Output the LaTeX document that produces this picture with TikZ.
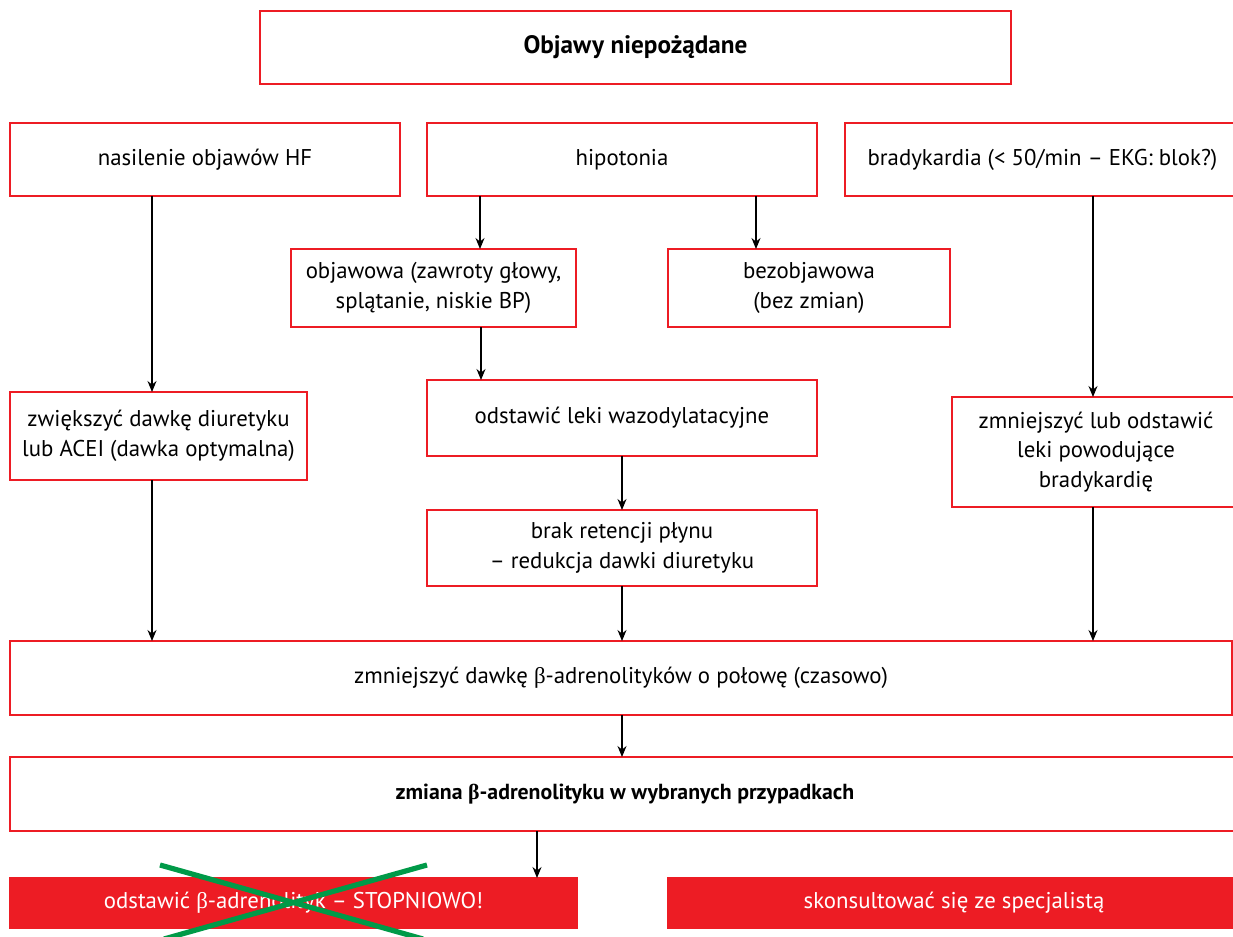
\documentclass[tikz,border=0pt]{standalone}
\usepackage{fontspec}
\setmainfont{PT Sans}
\newfontfamily\betafont{Liberation Serif}
\newcommand{\btsym}{{\betafont β}}
\usetikzlibrary{
  arrows.meta
}
\definecolor{boxred}{HTML}{ED1C24}
\definecolor{crossgreen}{HTML}{009A48}
\tikzset{
  flowbox/.style={
    draw=boxred,
    line width=0.7pt,
    fill=white,
    inner sep=0pt,
    outer sep=0pt,
    align=center,
    font=\fontsize{11.4}{14.8}\selectfont
  },
  alertbox/.style={
    flowbox,
    fill=boxred,
    text=white
  },
  flowarrow/.style={
    draw,
    line width=0.6pt,
    -{Stealth[length=5.5pt,width=4.5pt]}
  },
  crossout/.style={
    draw=crossgreen,
    line width=2.6pt
  }
}
\begin{document}
\begin{tikzpicture}[x=0.5pt,y=-0.5pt]
  \clip (0,0) rectangle (1233,937);
  \fill[white] (0,0) rectangle (1233,937);
  % top level
  \node[flowbox, minimum width=375.5pt, minimum height=36.5pt, font=\fontsize{12.6}{15}\selectfont\bfseries] (objawy) at (635.5,47.5) {Objawy niepożądane};
  % three symptoms
  \node[flowbox, minimum width=195pt, minimum height=36.5pt] (nasilenie) at (205,159.5) {nasilenie objawów HF};
  \node[flowbox, minimum width=195pt, minimum height=36.5pt] (hipotonia) at (622,159.5) {hipotonia};
  \node[flowbox, minimum width=197.5pt, minimum height=36.5pt] (bradykardia) at (1042.5,159.5) {bradykardia (< 50/min – EKG: blok?)};
  % hypotension branch
  \node[flowbox, minimum width=142.5pt, minimum height=39pt] (objawowa) at (433.5,288) {objawowa (zawroty głowy,\\splątanie, niskie BP)};
  \node[flowbox, minimum width=141pt, minimum height=39pt] (bezobjawowa) at (809,288) {bezobjawowa\\(bez zmian)};
  \node[flowbox, minimum width=195pt, minimum height=38pt] (wazodylatacyjne) at (622,418) {odstawić leki wazodylatacyjne};
  \node[flowbox, minimum width=195pt, minimum height=38pt] (retencja) at (622,548) {brak retencji płynu\\– redukcja dawki diuretyku};
  % side branches
  \node[flowbox, minimum width=148.5pt, minimum height=44pt] (diuretyk) at (158.5,436) {zwiększyć dawkę diuretyku\\lub ACEI (dawka optymalna)};
  \node[flowbox, minimum width=144pt, minimum height=55pt] (odstawic) at (1096,452) {zmniejszyć lub odstawić\\leki powodujące\\bradykardię};
  % common steps
  \node[flowbox, minimum width=611pt, minimum height=37pt] (polowa) at (621,678) {zmniejszyć dawkę \btsym-adrenolityków o połowę (czasowo)};
  \node[flowbox, minimum width=615pt, minimum height=37pt, font=\fontsize{10.9}{14.8}\selectfont\bfseries] (zmiana) at (625,794) {zmiana \btsym-adrenolityku w wybranych przypadkach};
  \node[alertbox, minimum width=283.5pt, minimum height=25pt] (stopniowo) at (293.5,903) {odstawić \btsym-adrenolityk – STOPNIOWO!};
  \node[alertbox, minimum width=286pt, minimum height=25pt] (specjalista) at (954,903) {skonsultować się ze specjalistą};
  % arrows
  \draw[flowarrow] (nasilenie.south -| 152,0) -- (diuretyk.north -| 152,0);
  \draw[flowarrow] (hipotonia.south -| 480,0) -- (objawowa.north -| 480,0);
  \draw[flowarrow] (hipotonia.south -| 756,0) -- (bezobjawowa.north -| 756,0);
  \draw[flowarrow] (bradykardia.south -| 1093,0) -- (odstawic.north -| 1093,0);
  \draw[flowarrow] (objawowa.south -| 481,0) -- (wazodylatacyjne.north -| 481,0);
  \draw[flowarrow] (wazodylatacyjne) -- (retencja);
  \draw[flowarrow] (diuretyk.south -| 152,0) -- (polowa.north -| 152,0);
  \draw[flowarrow] (retencja) -- (polowa.north -| retencja);
  \draw[flowarrow] (odstawic.south -| 1093,0) -- (polowa.north -| 1093,0);
  \draw[flowarrow] (polowa.south -| 622,0) -- (zmiana.north -| 622,0);
  \draw[flowarrow] (zmiana.south -| 537,0) -- (stopniowo.north -| 537,0);
  % crossed out
  \draw[crossout] (160,865) -- (423,939);
  \draw[crossout] (427,865) -- (164,939);
\end{tikzpicture}
\end{document}
